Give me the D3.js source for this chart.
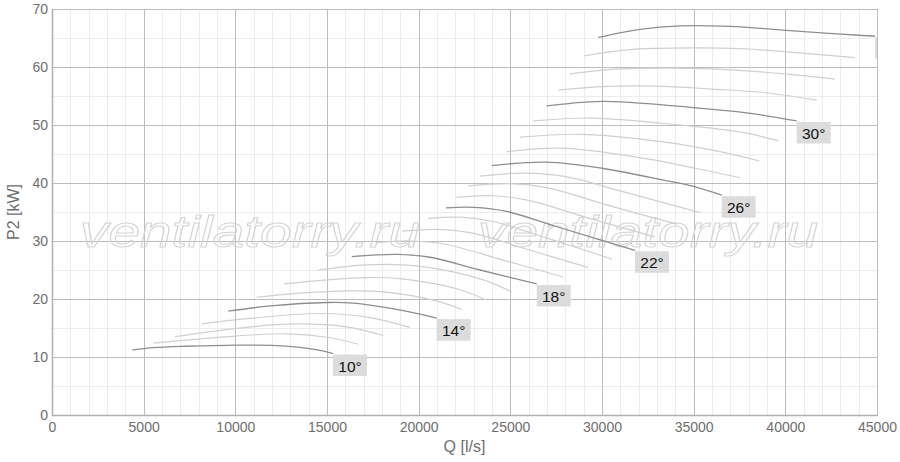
<!DOCTYPE html>
<html><head><meta charset="utf-8">
<script src="https://cdn.jsdelivr.net/npm/d3@7"></script>
<style>
body{margin:0;background:#fff}
svg{display:block}
text{font-family:"Liberation Sans",Arial,sans-serif}
</style>
</head><body>
<svg id="chart" width="900" height="462"></svg>
<script>
// ---------- data ----------
const xTicks = [0,5000,10000,15000,20000,25000,30000,35000,40000,45000];
const yTicks = [0,10,20,30,40,50,60,70];
const xTitle = "Q [l/s]";
const yTitle = "P2 [kW]";
const watermark = "ventilatorry.ru";
const angles = [10,11,12,13,14,15,16,17,18,19,20,21,22,23,24,25,26,27,28,29,30,31,32,33,34];
const labelled = [10,14,18,22,26,30,34];

// each curve: [Q l/s, P2 kW]
const a10 = [[4380,11.2],[5530,11.6],[7350,11.85],[10000,12.05],[12000,12.0],[13400,11.7],[14620,11.15],[15330,10.6]];
const a11 = [[5530,12.4],[9980,13.6],[12800,14.0],[15000,13.4],[16710,12.2]];
const a12 = [[6710,13.5],[9980,14.9],[13160,15.7],[16070,15.2],[18070,13.7]];
const a13 = [[8165,15.7],[9980,16.4],[14620,17.5],[17345,16.8],[19530,15.1]];
const a14 = [[9620,17.9],[11890,18.8],[15000,19.4],[16450,19.3],[18250,18.5],[20070,17.4],[20980,16.7]];
const a15 = [[11165,20.3],[13530,21.0],[16250,21.4],[18255,21.2],[20800,19.8],[22350,18.2]];
const a16 = [[12670,22.6],[14985,23.3],[17165,23.7],[18980,23.5],[22255,21.6],[23620,19.9]];
const a17 = [[14525,25.0],[17165,25.9],[19890,25.7],[23525,23.3],[25075,21.2]];
const a18 = [[16350,27.3],[18800,27.7],[20620,27.2],[23350,25.0],[26440,22.6]];
const a19 = [[17670,29.7],[19500,30.0],[21500,29.4],[24500,26.8],[27890,23.8]];
const a20 = [[19090,31.7],[21000,32.0],[23000,31.3],[26000,28.5],[29250,25.4]];
const a21 = [[20510,33.9],[22300,34.1],[24000,33.4],[27300,30.2],[30530,26.9]];
const a22 = [[21490,35.7],[23000,35.8],[24800,35.1],[27500,32.5],[29900,30.2],[31800,28.4]];
const a23 = [[22070,37.5],[24000,37.8],[26000,37.0],[29000,34.2],[32890,30.7]];
const a24 = [[22710,39.5],[25000,39.9],[27000,39.2],[30500,36.0],[34090,32.9]];
const a25 = [[23350,41.2],[25800,41.7],[28000,41.1],[31500,38.2],[35350,34.9]];
const a26 = [[23980,43.0],[27000,43.6],[30070,42.5],[33350,40.5],[34980,39.4],[36530,37.9]];
const a27 = [[24800,45.4],[27800,46.0],[32400,44.2],[35160,42.5],[37530,40.9]];
const a28 = [[25530,47.9],[28800,48.4],[33350,47.1],[36440,45.4],[38580,43.8]];
const a29 = [[26250,50.7],[29350,51.2],[34250,50.0],[37530,48.8],[39620,47.3]];
const a30 = [[26980,53.3],[29300,54.0],[31000,54.0],[34980,53.0],[37890,52.1],[40620,50.7]];
const a31 = [[27620,56.0],[30000,56.6],[33000,56.7],[36000,56.2],[38800,55.6],[41710,54.3]];
const a32 = [[28250,58.8],[30500,59.6],[34000,59.8],[37000,59.5],[40000,58.8],[42710,57.9]];
const a33 = [[29020,61.9],[31500,63.0],[35000,63.3],[38000,63.1],[40070,62.6],[43800,61.6]];
const a34 = [[29800,65.1],[32070,66.5],[34250,67.1],[37000,67.0],[40070,66.3],[44890,65.3]];
const curves = [a10,a11,a12,a13,a14,a15,a16,a17,a18,a19,a20,a21,a22,a23,a24,a25,a26,a27,a28,a29,a30,a31,a32,a33,a34];

// ---------- layout ----------
const svg = d3.select("#chart");
const X0 = 52, X1 = 877, Y0 = 415, Y1 = 9;
const x = d3.scaleLinear().domain([0,45000]).range([X0,X1]);
const y = d3.scaleLinear().domain([0,70]).range([Y0,Y1]);

const defs = svg.append("defs");
defs.append("clipPath").attr("id","plotclip").append("rect")
  .attr("x",X0).attr("y",0).attr("width",X1-X0).attr("height",Y0);

// minor grid
const gMinor = svg.append("g").attr("stroke","#ececec").attr("stroke-width",1);
gMinor.selectAll("line.mx").data(x.ticks(45).filter(v=>!xTicks.includes(v))).join("line")
  .attr("x1",d=>Math.round(x(d))+0.5).attr("x2",d=>Math.round(x(d))+0.5).attr("y1",Y1).attr("y2",Y0);
gMinor.selectAll("line.my").data(y.ticks(14).filter(v=>!yTicks.includes(v))).join("line")
  .attr("y1",d=>Math.round(y(d))+0.5).attr("y2",d=>Math.round(y(d))+0.5).attr("x1",X0).attr("x2",X1);

// major grid
const gMajor = svg.append("g").attr("stroke","#bdbdbd").attr("stroke-width",1);
gMajor.selectAll("line.Mx").data(xTicks).join("line")
  .attr("x1",d=>Math.round(x(d))+0.5).attr("x2",d=>Math.round(x(d))+0.5).attr("y1",Y1).attr("y2",Y0);
gMajor.selectAll("line.My").data(yTicks).join("line")
  .attr("y1",d=>Math.round(y(d))+0.5).attr("y2",d=>Math.round(y(d))+0.5).attr("x1",X0).attr("x2",X1);

// axis lines
svg.append("line").attr("x1",X0+0.5).attr("x2",X0+0.5).attr("y1",Y1).attr("y2",Y0+1)
  .attr("stroke","#b0b0b0").attr("stroke-width",1.5);
svg.append("line").attr("x1",X0).attr("x2",X1+1).attr("y1",Y0+0.5).attr("y2",Y0+0.5)
  .attr("stroke","#b0b0b0").attr("stroke-width",1.5);

// watermark
const wm = svg.append("g").attr("fill","none").attr("stroke","#d4d4d4").attr("stroke-width",1);
[80,478].forEach(px=>{
  wm.append("text").attr("x",px).attr("y",247)
    .attr("font-family","'DejaVu Sans',sans-serif").attr("font-style","oblique")
    .attr("font-size",45).attr("textLength",340).attr("lengthAdjust","spacingAndGlyphs")
    .text(watermark);
});

// curves
const line = d3.line().x(d=>x(d[0])).y(d=>y(d[1])).curve(d3.curveCatmullRom.alpha(0.5));
const gc = svg.append("g").attr("clip-path","url(#plotclip)").attr("fill","none");
const order = angles.map((a,i)=>i).sort((i,j)=>(labelled.includes(angles[i])?1:0)-(labelled.includes(angles[j])?1:0));
order.forEach(i=>{
  const dark = labelled.includes(angles[i]);
  gc.append("path").attr("d",line(curves[i]))
    .attr("stroke",dark?"#8e8e8e":"#cfcfcf")
    .attr("stroke-width",dark?1.3:1.2);
});

// angle labels
defs.append("clipPath").attr("id","lblclip").append("rect")
  .attr("x",0).attr("y",0).attr("width",X1).attr("height",462);
const gl = svg.append("g").attr("clip-path","url(#lblclip)");
angles.forEach((a,i)=>{
  if(!labelled.includes(a)) return;
  const p = curves[i][curves[i].length-1];
  const px = x(p[0]), py = y(p[1]);
  const g = gl.append("g").attr("transform",`translate(${px},${py+1})`);
  g.append("rect").attr("width",34).attr("height",21.5).attr("fill","#dcdcdc");
  g.append("text").attr("x",17).attr("y",17).attr("text-anchor","middle")
    .attr("font-size",15.5).attr("fill","#111").text(a+"°");
});

// axes labels
const ax = svg.append("g").attr("transform",`translate(0,${Y0})`)
  .call(d3.axisBottom(x).tickValues(xTicks).tickSize(0).tickPadding(7).tickFormat(d3.format("d")));
ax.select(".domain").remove();
ax.selectAll("text").attr("font-size",14).attr("fill","#6e6e6e").attr("font-family","'Liberation Sans',Arial,sans-serif");

const ay = svg.append("g").attr("transform",`translate(${X0},0)`)
  .call(d3.axisLeft(y).tickValues(yTicks).tickSize(0).tickPadding(4));
ay.select(".domain").remove();
ay.selectAll("text").attr("font-size",14).attr("fill","#6e6e6e").attr("font-family","'Liberation Sans',Arial,sans-serif");

svg.append("text").attr("x",(X0+X1)/2).attr("y",452).attr("text-anchor","middle")
  .attr("font-size",16).attr("fill","#6e6e6e").text(xTitle);
svg.append("text").attr("transform",`translate(19,${(Y0+Y1)/2}) rotate(-90)`).attr("text-anchor","middle")
  .attr("font-size",16).attr("fill","#6e6e6e").text(yTitle);
</script>
</body></html>
